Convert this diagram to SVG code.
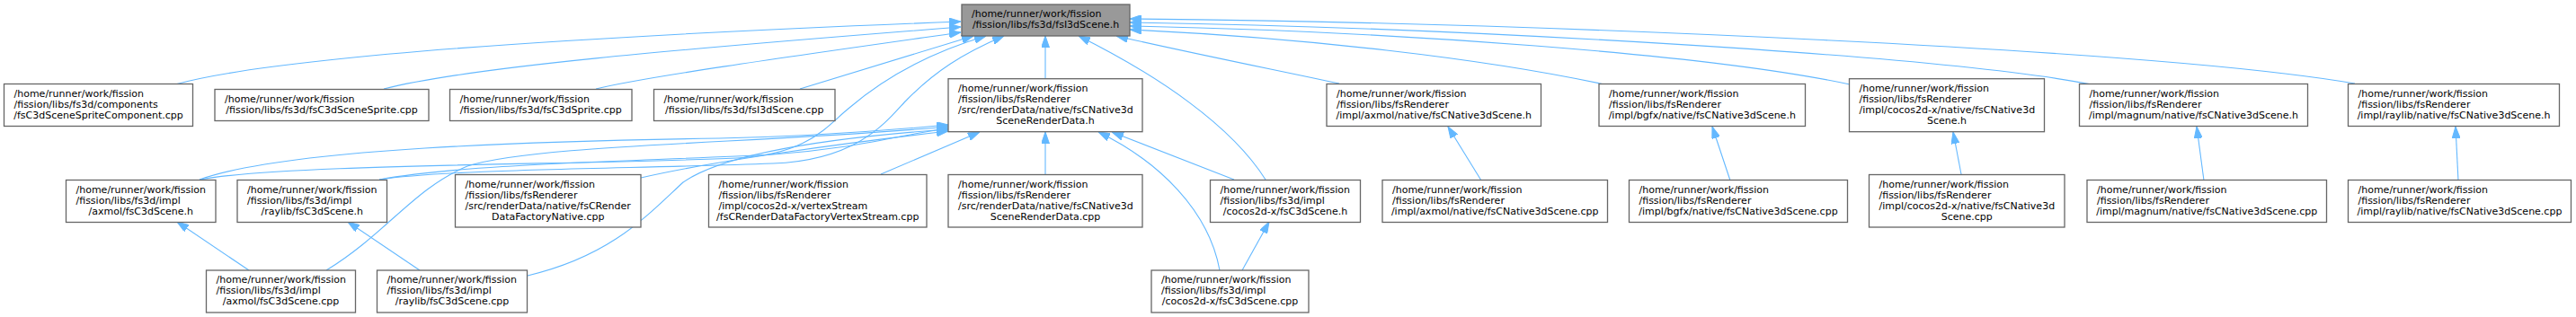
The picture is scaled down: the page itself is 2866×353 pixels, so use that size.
<svg xmlns="http://www.w3.org/2000/svg" width="2866" height="353" viewBox="0 0 2866 353">
<defs>
<marker id="ah" viewBox="0 0 13 9" refX="13" refY="4.5" markerWidth="13" markerHeight="9" markerUnits="userSpaceOnUse" orient="auto">
<path d="M0,0 L13,4.5 L0,9 z" fill="#63b8ff" stroke="#63b8ff" stroke-width="1"/>
</marker>
</defs>
<style>
.n rect{fill:#ffffff;stroke:#666666;stroke-width:1.3}
.root rect{fill:#999999;stroke:#666666;stroke-width:1.3}
text{font-family:"DejaVu Sans","Liberation Sans",sans-serif;font-size:11px;fill:#000000}
.c{text-anchor:middle}
#edges path{fill:none;stroke:#63b8ff;stroke-width:1.1;marker-end:url(#ah)}
</style>
<rect width="2866" height="353" fill="#ffffff"/>
<g id="edges">
<path d="M195,94 C300,65 600,42 1069,24"/>
<path d="M427,99 C520,75 750,55 1069,30"/>
<path d="M663,99 C720,85 900,60 1069,36"/>
<path d="M890,99 L1083,40"/>
<path d="M1163,88 L1163,40"/>
<path d="M222,200 C320,182 640,184 820,176 C900,172 920,140 945,120 C980,90 1030,60 1097,40"/>
<path d="M422,200 C500,188 700,188 860,182 C960,178 990,130 1010,110 C1040,80 1070,60 1117,40"/>
<path d="M1408,200 C1370,140 1290,85 1200,40"/>
<path d="M1490,93 C1420,78 1320,58 1242,40"/>
<path d="M1785,94 C1650,65 1450,42 1257,33"/>
<path d="M2058,94 C1900,60 1550,35 1257,29"/>
<path d="M2327,94 C2150,60 1600,30 1257,25"/>
<path d="M2620,93 C2400,55 1700,25 1257,21"/>
<path d="M222,200 C320,165 600,157 800,154 C900,152 980,146 1055,139"/>
<path d="M422,200 C520,182 700,180 860,172 C950,166 1000,150 1055,143"/>
<path d="M713,198 C800,178 950,158 1055,146"/>
<path d="M363,301 C430,260 460,210 520,185 C600,160 850,160 1055,141"/>
<path d="M587,307 C680,285 720,240 760,203 C800,175 900,155 1055,144"/>
<path d="M980,194 L1090,147"/>
<path d="M1163,194 L1163,147"/>
<path d="M1357,301 C1345,235 1290,180 1222,147"/>
<path d="M1373,200 L1237,147"/>
<path d="M1648,201 L1611,141"/>
<path d="M1925,201 L1905,141"/>
<path d="M2182,194 L2173,147"/>
<path d="M2452,201 L2444,141"/>
<path d="M2735,201 L2732,141"/>
<path d="M277,301 L197,247"/>
<path d="M467,301 L387,247"/>
<path d="M1382,301 L1412,247"/>
</g>
<g id="n0" class="root"><rect x="1070" y="5" width="187" height="35"/><text><tspan x="1081" y="19.4">/home/runner/work/fission</tspan><tspan class="c" x="1163.5" y="31.4">/fission/libs/fs3d/fsI3dScene.h</tspan></text></g>
<g id="n1" class="n"><rect x="4.5" y="93.5" width="210" height="47"/><text><tspan x="15.5" y="107.9">/home/runner/work/fission</tspan><tspan x="15.5" y="119.9">/fission/libs/fs3d/components</tspan><tspan class="c" x="109.5" y="131.9">/fsC3dSceneSpriteComponent.cpp</tspan></text></g>
<g id="n2" class="n"><rect x="239" y="99.5" width="238" height="35"/><text><tspan x="250" y="113.9">/home/runner/work/fission</tspan><tspan class="c" x="358" y="125.9">/fission/libs/fs3d/fsC3dSceneSprite.cpp</tspan></text></g>
<g id="n3" class="n"><rect x="500.5" y="99.5" width="202.5" height="35"/><text><tspan x="511.5" y="113.9">/home/runner/work/fission</tspan><tspan class="c" x="601.75" y="125.9">/fission/libs/fs3d/fsC3dSprite.cpp</tspan></text></g>
<g id="n4" class="n"><rect x="727.5" y="99.5" width="201.5" height="35"/><text><tspan x="738.5" y="113.9">/home/runner/work/fission</tspan><tspan class="c" x="828.25" y="125.9">/fission/libs/fs3d/fsI3dScene.cpp</tspan></text></g>
<g id="n5" class="n"><rect x="1055" y="87.7" width="216" height="59"/><text><tspan x="1066" y="102.1">/home/runner/work/fission</tspan><tspan x="1066" y="114.1">/fission/libs/fsRenderer</tspan><tspan x="1066" y="126.1">/src/renderData/native/fsCNative3d</tspan><tspan class="c" x="1163" y="138.1">SceneRenderData.h</tspan></text></g>
<g id="n6" class="n"><rect x="1476" y="93.5" width="238.5" height="47"/><text><tspan x="1487" y="107.9">/home/runner/work/fission</tspan><tspan x="1487" y="119.9">/fission/libs/fsRenderer</tspan><tspan class="c" x="1595.25" y="131.9">/impl/axmol/native/fsCNative3dScene.h</tspan></text></g>
<g id="n7" class="n"><rect x="1779" y="93.5" width="229.5" height="47"/><text><tspan x="1790" y="107.9">/home/runner/work/fission</tspan><tspan x="1790" y="119.9">/fission/libs/fsRenderer</tspan><tspan class="c" x="1893.75" y="131.9">/impl/bgfx/native/fsCNative3dScene.h</tspan></text></g>
<g id="n8" class="n"><rect x="2057.5" y="87.7" width="217" height="59"/><text><tspan x="2068.5" y="102.1">/home/runner/work/fission</tspan><tspan x="2068.5" y="114.1">/fission/libs/fsRenderer</tspan><tspan x="2068.5" y="126.1">/impl/cocos2d-x/native/fsCNative3d</tspan><tspan class="c" x="2166" y="138.1">Scene.h</tspan></text></g>
<g id="n9" class="n"><rect x="2313.5" y="93.5" width="254" height="47"/><text><tspan x="2324.5" y="107.9">/home/runner/work/fission</tspan><tspan x="2324.5" y="119.9">/fission/libs/fsRenderer</tspan><tspan class="c" x="2440.5" y="131.9">/impl/magnum/native/fsCNative3dScene.h</tspan></text></g>
<g id="n10" class="n"><rect x="2612.5" y="93.5" width="235" height="47"/><text><tspan x="2623.5" y="107.9">/home/runner/work/fission</tspan><tspan x="2623.5" y="119.9">/fission/libs/fsRenderer</tspan><tspan class="c" x="2730" y="131.9">/impl/raylib/native/fsCNative3dScene.h</tspan></text></g>
<g id="n11" class="n"><rect x="73.5" y="200.5" width="166.5" height="47"/><text><tspan x="84.5" y="214.9">/home/runner/work/fission</tspan><tspan x="84.5" y="226.9">/fission/libs/fs3d/impl</tspan><tspan class="c" x="156.75" y="238.9">/axmol/fsC3dScene.h</tspan></text></g>
<g id="n12" class="n"><rect x="264" y="200.5" width="166.5" height="47"/><text><tspan x="275" y="214.9">/home/runner/work/fission</tspan><tspan x="275" y="226.9">/fission/libs/fs3d/impl</tspan><tspan class="c" x="347.25" y="238.9">/raylib/fsC3dScene.h</tspan></text></g>
<g id="n13" class="n"><rect x="506.5" y="194.5" width="206.5" height="58.5"/><text><tspan x="517.5" y="208.9">/home/runner/work/fission</tspan><tspan x="517.5" y="220.9">/fission/libs/fsRenderer</tspan><tspan x="517.5" y="232.9">/src/renderData/native/fsCRender</tspan><tspan class="c" x="609.75" y="244.9">DataFactoryNative.cpp</tspan></text></g>
<g id="n14" class="n"><rect x="788.5" y="194.5" width="242.5" height="58.5"/><text><tspan x="799.5" y="208.9">/home/runner/work/fission</tspan><tspan x="799.5" y="220.9">/fission/libs/fsRenderer</tspan><tspan x="799.5" y="232.9">/impl/cocos2d-x/vertexStream</tspan><tspan class="c" x="909.75" y="244.9">/fsCRenderDataFactoryVertexStream.cpp</tspan></text></g>
<g id="n15" class="n"><rect x="1055" y="194.5" width="216" height="58.5"/><text><tspan x="1066" y="208.9">/home/runner/work/fission</tspan><tspan x="1066" y="220.9">/fission/libs/fsRenderer</tspan><tspan x="1066" y="232.9">/src/renderData/native/fsCNative3d</tspan><tspan class="c" x="1163" y="244.9">SceneRenderData.cpp</tspan></text></g>
<g id="n16" class="n"><rect x="1346.5" y="200.5" width="167" height="47"/><text><tspan x="1357.5" y="214.9">/home/runner/work/fission</tspan><tspan x="1357.5" y="226.9">/fission/libs/fs3d/impl</tspan><tspan class="c" x="1430" y="238.9">/cocos2d-x/fsC3dScene.h</tspan></text></g>
<g id="n17" class="n"><rect x="1538" y="200.5" width="250.5" height="47"/><text><tspan x="1549" y="214.9">/home/runner/work/fission</tspan><tspan x="1549" y="226.9">/fission/libs/fsRenderer</tspan><tspan class="c" x="1663.25" y="238.9">/impl/axmol/native/fsCNative3dScene.cpp</tspan></text></g>
<g id="n18" class="n"><rect x="1812.5" y="200.5" width="243" height="47"/><text><tspan x="1823.5" y="214.9">/home/runner/work/fission</tspan><tspan x="1823.5" y="226.9">/fission/libs/fsRenderer</tspan><tspan class="c" x="1934" y="238.9">/impl/bgfx/native/fsCNative3dScene.cpp</tspan></text></g>
<g id="n19" class="n"><rect x="2079.5" y="194.5" width="217.5" height="58.5"/><text><tspan x="2090.5" y="208.9">/home/runner/work/fission</tspan><tspan x="2090.5" y="220.9">/fission/libs/fsRenderer</tspan><tspan x="2090.5" y="232.9">/impl/cocos2d-x/native/fsCNative3d</tspan><tspan class="c" x="2188.25" y="244.9">Scene.cpp</tspan></text></g>
<g id="n20" class="n"><rect x="2322" y="200.5" width="266.5" height="47"/><text><tspan x="2333" y="214.9">/home/runner/work/fission</tspan><tspan x="2333" y="226.9">/fission/libs/fsRenderer</tspan><tspan class="c" x="2455.25" y="238.9">/impl/magnum/native/fsCNative3dScene.cpp</tspan></text></g>
<g id="n21" class="n"><rect x="2612.5" y="200.5" width="248" height="47"/><text><tspan x="2623.5" y="214.9">/home/runner/work/fission</tspan><tspan x="2623.5" y="226.9">/fission/libs/fsRenderer</tspan><tspan class="c" x="2736.5" y="238.9">/impl/raylib/native/fsCNative3dScene.cpp</tspan></text></g>
<g id="n22" class="n"><rect x="229.5" y="301" width="166" height="47"/><text><tspan x="240.5" y="315.4">/home/runner/work/fission</tspan><tspan x="240.5" y="327.4">/fission/libs/fs3d/impl</tspan><tspan class="c" x="312.5" y="339.4">/axmol/fsC3dScene.cpp</tspan></text></g>
<g id="n23" class="n"><rect x="419.5" y="301" width="167" height="47"/><text><tspan x="430.5" y="315.4">/home/runner/work/fission</tspan><tspan x="430.5" y="327.4">/fission/libs/fs3d/impl</tspan><tspan class="c" x="503" y="339.4">/raylib/fsC3dScene.cpp</tspan></text></g>
<g id="n24" class="n"><rect x="1281" y="301" width="175" height="47"/><text><tspan x="1292" y="315.4">/home/runner/work/fission</tspan><tspan x="1292" y="327.4">/fission/libs/fs3d/impl</tspan><tspan class="c" x="1368.5" y="339.4">/cocos2d-x/fsC3dScene.cpp</tspan></text></g>
</svg>
